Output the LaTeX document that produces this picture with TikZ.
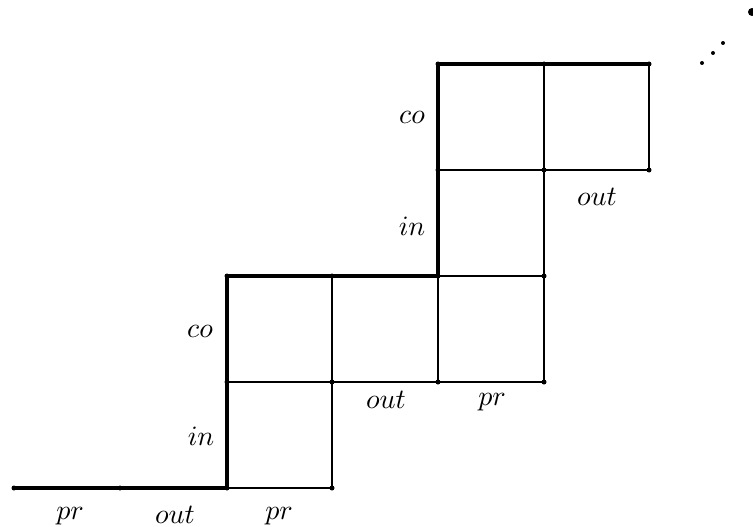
\documentclass[tikz,border=0pt]{standalone}
\begin{document}
\begin{tikzpicture}[x=1pt,y=-1pt,
  thinline/.style={line width=1.9pt},
  midline/.style={line width=2.7pt},
  boldline/.style={line width=4.4pt},
  vdot/.style={circle,fill=black,inner sep=0pt,minimum size=5pt},
  lab/.style={anchor=base,inner sep=0pt,scale=2.8}]
\useasboundingbox (0,0) rectangle (753,527);
% lattice points
\foreach \n/\x/\y in {a0/14/488, a1/120/488, a2/227/488, a3/332/488,
                      b2/227/382, b3/332/382, b4/438/382, b5/544/382,
                      c2/227/276, c3/332/276, c4/438/276, c5/544/276,
                      d4/438/170, d5/544/170, d6/649/170,
                      e4/438/64, e5/544/64, e6/649/64}
  \coordinate (\n) at (\x,\y);
% thin cells
\draw[thinline] (a2) -- (a3) -- (c3);
\draw[thinline] (b2) -- (b5);
\draw[thinline] (c4) -- (c5) -- (b5);
% medium cells
\draw[midline] (c4) -- (b4);
\draw[midline] (e5) -- (c5);
\draw[midline] (d4) -- (d6) -- (e6);
% the staircase boundary
\draw[boldline] (a0) -- (a2) -- (c2) -- (c4) -- (e4) -- (e6);
% vertex dots
\foreach \n in {a0,a1,a2,a3,b2,b3,b4,b5,c2,c3,c4,c5,d4,d5,d6,e4,e5,e6}
  \node[vdot] at (\n) {};
% continuation dots
\node[circle,fill=black,inner sep=0pt,minimum size=4pt] (u1) at (702,63) {};
\node[circle,fill=black,inner sep=0pt,minimum size=4pt] (u2) at (713,53) {};
\node[circle,fill=black,inner sep=0pt,minimum size=4pt] (u3) at (723,43) {};
\node[circle,fill=black,inner sep=0pt,minimum size=8pt] (u4) at (752,12) {};
% labels
\node[lab] (l1) at (70,519) {$pr$};
\node[lab] (l2) at (175,523) {$out$};
\node[lab] (l3) at (279,519) {$pr$};
\node[lab] (l4) at (201,445) {$in$};
\node[lab] (l5) at (200,337) {$co$};
\node[lab] (l6) at (386,408) {$out$};
\node[lab] (l7) at (492,405) {$pr$};
\node[lab] (l8) at (412,235) {$in$};
\node[lab] (l9) at (412,123) {$co$};
\node[lab] (l10) at (597,205) {$out$};
\end{tikzpicture}
\end{document}
